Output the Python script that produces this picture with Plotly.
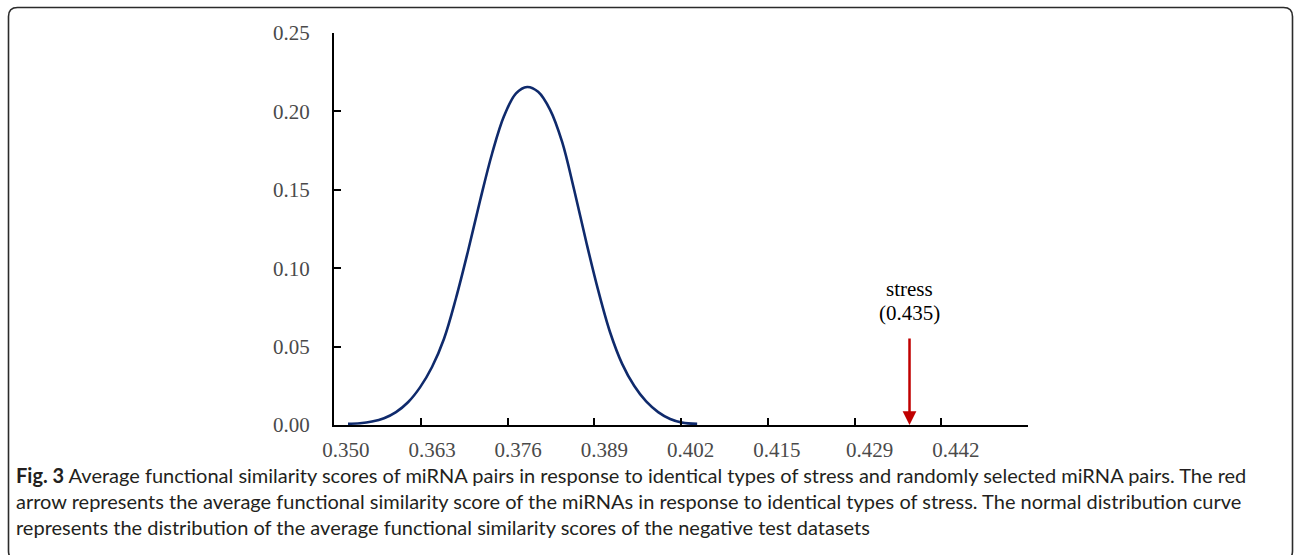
import plotly.graph_objects as go

# Normal distribution curve of average functional similarity scores (negative test datasets)
score = [0.35033, 0.35214, 0.35395, 0.35576, 0.35757, 0.35938, 0.36119, 0.36300,
         0.36481, 0.36662, 0.36843, 0.37024, 0.37205, 0.37386, 0.37567, 0.37734,
         0.37900, 0.38081, 0.38262, 0.38443, 0.38624, 0.38805, 0.38986, 0.39167,
         0.39348, 0.39529, 0.39710, 0.39891, 0.40072, 0.40298]
density = [0.0008, 0.0011, 0.0022, 0.0043, 0.0082, 0.0145, 0.0240, 0.0370,
           0.0550, 0.0810, 0.1110, 0.1430, 0.1730, 0.1970, 0.2115, 0.2156,
           0.2125, 0.2010, 0.1805, 0.1500, 0.1170, 0.0860, 0.0590, 0.0390,
           0.0250, 0.0150, 0.0082, 0.0038, 0.0015, 0.0008]

# Observed score for stress-related miRNA pairs
stress_label = "stress"
stress_score = 0.435

x_tick_labels = ["0.350", "0.363", "0.376", "0.389", "0.402", "0.415", "0.429", "0.442"]
y_tick_values = [0.00, 0.05, 0.10, 0.15, 0.20, 0.25]

caption_lines = [
    "<b>Fig. 3</b> Average functional similarity scores of miRNA pairs in response to identical types of stress and randomly selected miRNA pairs. The red",
    "arrow represents the average functional similarity score of the miRNAs in response to identical types of stress. The normal distribution curve",
    "represents the distribution of the average functional similarity scores of the negative test datasets",
]

# ---- geometry ----
W, H = 1295, 555
L, R, T, B = 334, 267, 33, 130
PW, PH = W - L - R, H - T - B

step = 0.013081                       # spacing between labelled values
x_lo = 0.350 - 0.1361 * step          # axis starts a little left of the first label
x_hi = x_lo + 8 * step
tick_marks = [x_lo + k * step for k in range(1, 9)]


def px(xp):
    return (xp - L) / PW


def py(yp):
    return (H - B - yp) / PH


def ydata(yp):
    return (H - B - yp) / PH * 0.25


serif = "Liberation Serif, Times New Roman, serif"

fig = go.Figure()
fig.add_trace(go.Scatter(
    x=score, y=density, mode="lines",
    line=dict(color="#0f2a6c", width=2.6, shape="spline", smoothing=1.0),
    hoverinfo="skip", showlegend=False,
))
# invisible trace to carry the tick-mark axis
fig.add_trace(go.Scatter(x=[x_lo], y=[0], xaxis="x2", mode="markers",
                         marker=dict(opacity=0), hoverinfo="skip", showlegend=False))

fig.update_layout(
    width=W, height=H, autosize=False,
    margin=dict(l=L, r=R, t=T, b=B, pad=0),
    paper_bgcolor="white", plot_bgcolor="white",
    xaxis=dict(
        range=[x_lo, x_hi], showgrid=False, zeroline=False,
        showline=True, linecolor="black", linewidth=2,
        tickmode="array", tickvals=[float(v) for v in x_tick_labels], ticktext=x_tick_labels,
        ticks="", tickfont=dict(family=serif, size=21, color="#4a4a4a"),
        ticklabelstandoff=5,
    ),
    xaxis2=dict(
        overlaying="x", matches="x", anchor="y", side="bottom",
        showgrid=False, zeroline=False, showline=False,
        tickmode="array", tickvals=tick_marks, showticklabels=False,
        ticks="inside", ticklen=7, tickwidth=1.6, tickcolor="black",
    ),
    yaxis=dict(
        range=[0, 0.25], showgrid=False, zeroline=False,
        showline=True, linecolor="black", linewidth=2,
        tickmode="array", tickvals=y_tick_values, ticktext=[f"{v:.2f}" for v in y_tick_values],
        ticks="inside", ticklen=7, tickwidth=1.6, tickcolor="black",
        tickfont=dict(family=serif, size=21, color="#4a4a4a"),
        ticklabelstandoff=18,
    ),
)

# red arrow marking the observed score
fig.add_annotation(
    x=stress_score, y=0, xref="x", yref="y",
    ax=stress_score, ay=ydata(337), axref="x", ayref="y",
    text="", showarrow=True, arrowhead=2, arrowsize=1.1, arrowwidth=2.5,
    arrowcolor="#c00000", standoff=0,
)
fig.add_annotation(x=stress_score, y=ydata(289), xref="x", yref="y", text=stress_label,
                   showarrow=False, xanchor="center", yanchor="middle",
                   font=dict(family=serif, size=21, color="black"))
fig.add_annotation(x=stress_score, y=ydata(313), xref="x", yref="y", text=f"({stress_score:.3f})",
                   showarrow=False, xanchor="center", yanchor="middle",
                   font=dict(family=serif, size=21, color="black"))

# figure caption
fig.add_annotation(
    x=px(14), y=py(461), xref="paper", yref="paper",
    text="<br>".join(caption_lines), showarrow=False, align="left",
    xanchor="left", yanchor="top",
    font=dict(family="Lato, Open Sans, sans-serif", size=20, color="#231f20"),
)

# rounded frame around the whole figure
x0, x1, y0, y1, r = 8.5, 1292.5, 7.5, 560, 9
path = (
    f"M {px(x0 + r)},{py(y0)} L {px(x1 - r)},{py(y0)} "
    f"Q {px(x1)},{py(y0)} {px(x1)},{py(y0 + r)} "
    f"L {px(x1)},{py(y1 - r)} Q {px(x1)},{py(y1)} {px(x1 - r)},{py(y1)} "
    f"L {px(x0 + r)},{py(y1)} Q {px(x0)},{py(y1)} {px(x0)},{py(y1 - r)} "
    f"L {px(x0)},{py(y0 + r)} Q {px(x0)},{py(y0)} {px(x0 + r)},{py(y0)} Z"
)
fig.add_shape(type="path", path=path, xref="paper", yref="paper",
              line=dict(color="#2b2b2b", width=1.6), layer="above")

fig.write_html("out.html")
